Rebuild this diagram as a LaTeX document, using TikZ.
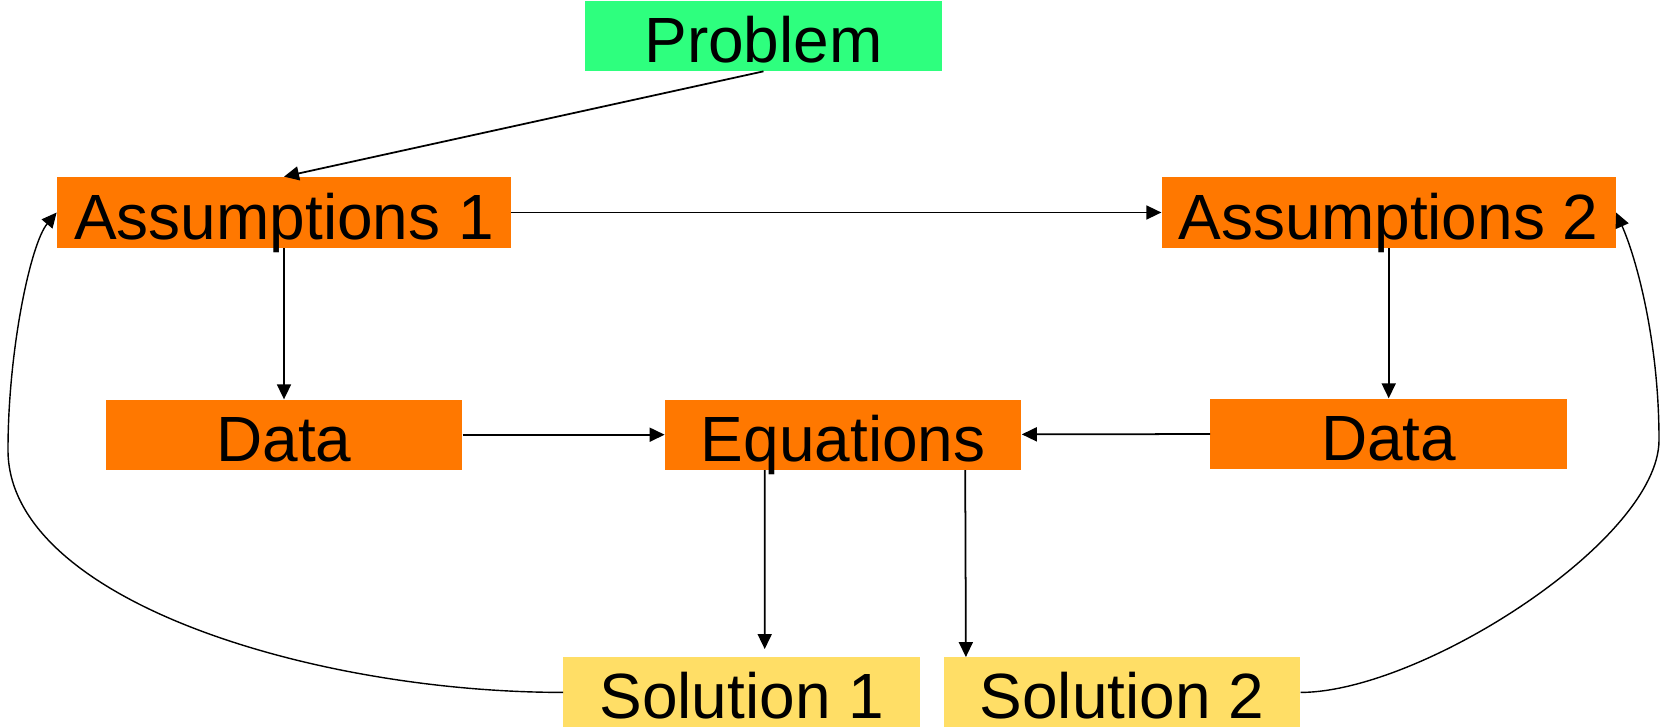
\documentclass[tikz,border=0pt]{standalone}
\usepackage{fontspec}
\setmainfont{Liberation Sans}
\usepackage{tikz}
\usetikzlibrary{
    arrows.meta,
    positioning
}
\definecolor{ProbGreen}{RGB}{46,255,126}
\definecolor{StepOrange}{RGB}{255,120,0}
\definecolor{SolYellow}{RGB}{255,222,102}

\begin{document}
\begin{tikzpicture}[
    box/.style    = {rectangle, minimum width=7.13cm, minimum height=1.4cm,
                     inner sep=0pt, text height=30.2pt, text depth=0pt,
                     font=\fontsize{36.4}{44}\selectfont},
    start/.style  = {box, fill=ProbGreen},
    proc/.style   = {box, fill=StepOrange},
    wide/.style   = {proc, minimum width=9.08cm, minimum height=1.42cm},
    result/.style = {box, fill=SolYellow},
    arr/.style    = {-{Triangle[length=0.3cm, width=0.28cm]}, line width=1pt},
    back/.style   = {arr, line width=0.8pt},
  ]
  \useasboundingbox (0,0) rectangle (33.26,-14.56);

  \node[start] (prob) at (15.27,-0.72) {Problem};
  \node[wide] (as1) at (5.68,-4.25) {Assumptions 1};
  \node[wide, right=13cm of as1] (as2) {Assumptions 2};

  \node[proc, below=3.02cm of as1] (dat1) {Data};
  \node[proc, right=4.04cm of dat1] (eqn) {Equations};
  \node[proc, below=3.0cm of as2] (dat2) {Data};

  \node[result, below=3.74cm of eqn, xshift=-2.03cm] (sol1) {Solution 1};
  \node[result, right=0.46cm of sol1] (sol2) {Solution 2};

  \coordinate (lbend) at (0.16,-9.0);
  \coordinate (rbend) at (33.18,-8.8);

  \draw[arr] (prob.south) -- (as1.north);
  \draw[arr] (as1) -- (as2);
  \draw[arr] (as1) -- (dat1);
  \draw[arr] (as2) -- (dat2);
  \draw[arr] (dat1) -- (eqn);
  \draw[arr] (dat2) -- (eqn);
  \draw[arr] ([xshift=-1.57cm]eqn.south) -- ([xshift=0.46cm, yshift=0.16cm]sol1.north);
  \draw[arr] ([xshift=2.44cm]eqn.south) -- ([xshift=-3.12cm]sol2.north);

  \draw[back] (sol1.west) .. controls +(-5.0,0) and +(0,-3.0) .. (lbend)
              .. controls +(0,2.0) and +(-0.52,-0.62) .. (as1.west);
  \draw[back] (sol2.east) .. controls +(2.4,0) and +(0,-2.0) .. (rbend)
              .. controls +(0,2.0) and +(0.4,-0.9) .. (as2.east);

\end{tikzpicture}
\end{document}
